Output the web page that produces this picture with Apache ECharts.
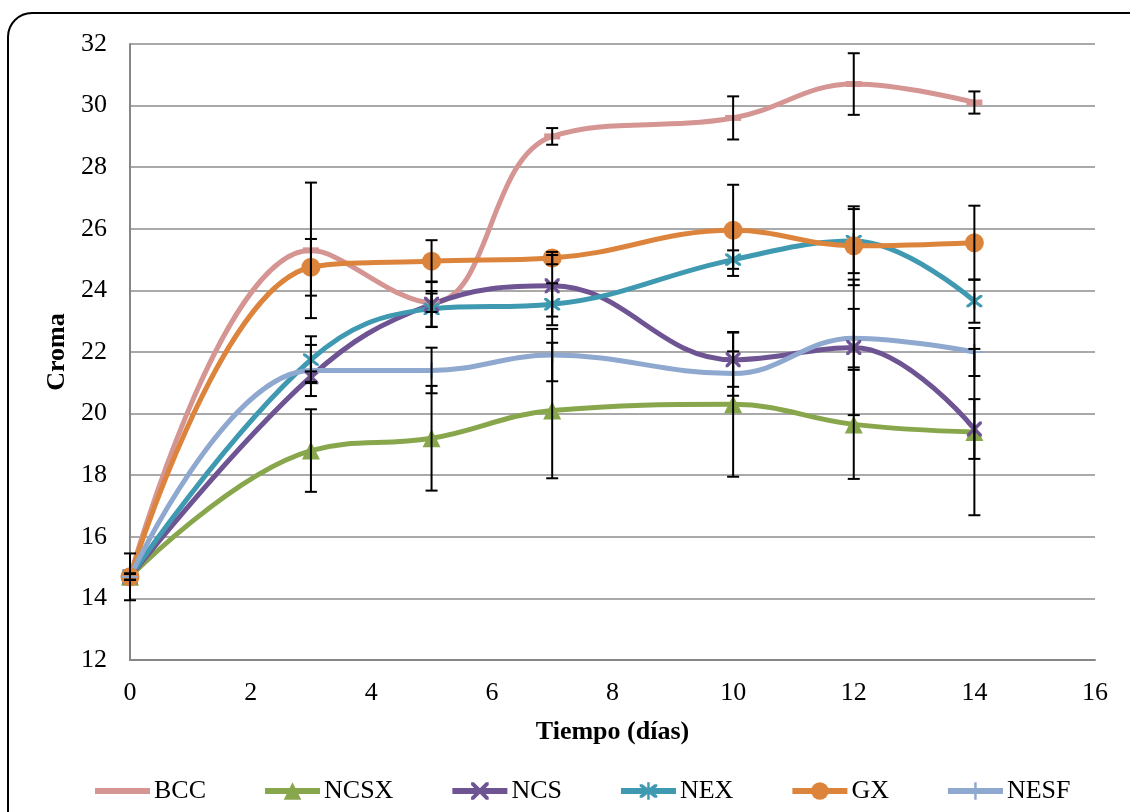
<!DOCTYPE html>
<html>
<head>
<meta charset="utf-8">
<script src="https://cdn.jsdelivr.net/npm/echarts@6/dist/echarts.min.js"></script>
<style>
html,body{margin:0;padding:0;background:#fff;}
#chart{width:1130px;height:812px;}
</style>
</head>
<body>
<div id="chart"></div>
<script>
// ---- data ----
const days = [0, 3, 5, 7, 10, 12, 14];
const seriesNames = ['BCC', 'NCSX', 'NCS', 'NEX', 'GX', 'NESF'];
const BCC      = [14.7, 25.3, 23.6, 29.0, 29.6, 30.7, 30.1];
const BCC_err  = [0.76, 2.2, 0.3, 0.27, 0.7, 1.0, 0.36];
const NCSX     = [14.7, 18.8, 19.2, 20.1, 20.3, 19.65, 19.4];
const NCSX_err = [0.1, 1.34, 1.7, 2.2, 2.35, 1.77, 2.7];
const NCS      = [14.7, 21.2, 23.55, 24.15, 21.75, 22.15, 19.5];
const NCS_err  = [0.1, 0.17, 0.74, 1.0, 0.88, 2.2, 0.97];
const NEX      = [14.7, 21.75, 23.4, 23.55, 25.0, 25.6, 23.65];
const NEX_err  = [0.1, 0.76, 0.58, 0.68, 0.3, 1.04, 0.7];
const GX       = [14.7, 24.75, 24.95, 25.05, 25.95, 25.45, 25.55];
const GX_err   = [0.1, 0.92, 0.68, 0.2, 1.48, 1.28, 1.2];
const NESF     = [14.7, 21.4, 21.4, 21.9, 21.3, 22.45, 22.0];
const NESF_err = [0.1, 0.83, 0.74, 0.85, 0.72, 0.95, 0.78];
const xTicks = [0, 2, 4, 6, 8, 10, 12, 14, 16];
const yTicks = [12, 14, 16, 18, 20, 22, 24, 26, 28, 30, 32];

const values = [BCC, NCSX, NCS, NEX, GX, NESF];
const errors = [BCC_err, NCSX_err, NCS_err, NEX_err, GX_err, NESF_err];
const colors = ['#D59593', '#88A74C', '#6F5494', '#3F9AB1', '#DD843C', '#8FA8CF'];

const DASH_PATH = 'path://M0,0 L10,0 L10,3 L0,3 Z';
const X_PATH = 'path://M0,0 L1.6,0 L10,8.4 L10,10 L8.4,10 L0,1.6 Z M10,0 L10,1.6 L1.6,10 L0,10 L0,8.4 L8.4,0 Z';
const STAR_PATH = 'path://M0,0 L1.6,0 L10,8.4 L10,10 L8.4,10 L0,1.6 Z M10,0 L10,1.6 L1.6,10 L0,10 L0,8.4 L8.4,0 Z M4.3,-1.5 L5.7,-1.5 L5.7,11.5 L4.3,11.5 Z';
const PLUS_PATH = 'path://M4.3,0 L5.7,0 L5.7,10 L4.3,10 Z M0,4.3 L10,4.3 L10,5.7 L0,5.7 Z';
const symbols = [DASH_PATH, 'triangle', X_PATH, STAR_PATH, 'circle', PLUS_PATH];
const symbolSizes = [[16, 6], 18, 15, 16, 19, 16];

const FONT = '"Liberation Serif", "Times New Roman", serif';

const series = [];
seriesNames.forEach((name, i) => {
  series.push({
    name: name,
    type: 'line',
    smooth: 0.4,
    data: days.map((d, k) => [d, values[i][k]]),
    symbol: symbols[i],
    symbolSize: symbolSizes[i],
    showSymbol: true,
    lineStyle: { color: colors[i], width: 5 },
    itemStyle: { color: colors[i] },
    z: 3,
    emphasis: { disabled: true }
  });
});
seriesNames.forEach((name, i) => {
  series.push({
    type: 'custom',
    name: name + '_err',
    data: days.map((d, k) => [d, values[i][k] - errors[i][k], values[i][k] + errors[i][k]]),
    z: 4,
    silent: true,
    renderItem: function (params, api) {
      const lo = api.coord([api.value(0), api.value(1)]);
      const hi = api.coord([api.value(0), api.value(2)]);
      const hw = 6;
      const st = { stroke: '#000', lineWidth: 2 };
      return {
        type: 'group',
        children: [
          { type: 'line', shape: { x1: lo[0], y1: lo[1], x2: hi[0], y2: hi[1] }, style: st },
          { type: 'line', shape: { x1: lo[0] - hw, y1: lo[1], x2: lo[0] + hw, y2: lo[1] }, style: st },
          { type: 'line', shape: { x1: hi[0] - hw, y1: hi[1], x2: hi[0] + hw, y2: hi[1] }, style: st }
        ]
      };
    }
  });
});

const legendData = seriesNames.map((n, i) => i === 0 ? { name: n, itemStyle: { opacity: 0 } } : { name: n });

const chart = echarts.init(document.getElementById('chart'), null, { renderer: 'canvas' });
chart.setOption({
  animation: false,
  backgroundColor: '#fff',
  textStyle: { fontFamily: FONT },
  graphic: [{
    type: 'rect',
    shape: { x: 8, y: 13, width: 1300, height: 1000, r: 24 },
    style: { fill: 'none', stroke: '#000', lineWidth: 2 },
    z: 0, silent: true
  }],
  grid: { left: 130, right: 35, top: 44, bottom: 152, containLabel: false },
  xAxis: {
    type: 'value',
    min: xTicks[0], max: xTicks[xTicks.length - 1], interval: 2,
    name: 'Tiempo (días)',
    nameLocation: 'middle',
    nameGap: 59,
    nameTextStyle: { fontFamily: FONT, fontSize: 26, fontWeight: 'bold', color: '#000', verticalAlign: 'top' },
    axisLine: { show: true, lineStyle: { color: '#868686', width: 2 } },
    axisTick: { show: false },
    splitLine: { show: false },
    axisLabel: { fontFamily: FONT, fontSize: 26, color: '#000', margin: 20 }
  },
  yAxis: {
    type: 'value',
    min: yTicks[0], max: yTicks[yTicks.length - 1], interval: 2,
    name: 'Croma',
    nameLocation: 'middle',
    nameGap: 57,
    nameRotate: 90,
    nameTextStyle: { fontFamily: FONT, fontSize: 26, fontWeight: 'bold', color: '#000' },
    axisLine: { show: true, lineStyle: { color: '#868686', width: 2 } },
    axisTick: { show: false },
    splitLine: { show: true, lineStyle: { color: '#8c8c8c', width: 1.5 } },
    axisLabel: { fontFamily: FONT, fontSize: 26, color: '#000', margin: 23 }
  },
  legend: {
    data: legendData,
    bottom: 3,
    left: 87,
    itemWidth: 55,
    itemHeight: 22,
    itemGap: 56,
    lineStyle: { width: 6 },
    textStyle: { fontFamily: FONT, fontSize: 26, color: '#000', padding: [0, 0, 0, -1] },
    selectedMode: false
  },
  series: series
});
</script>
</body>
</html>
